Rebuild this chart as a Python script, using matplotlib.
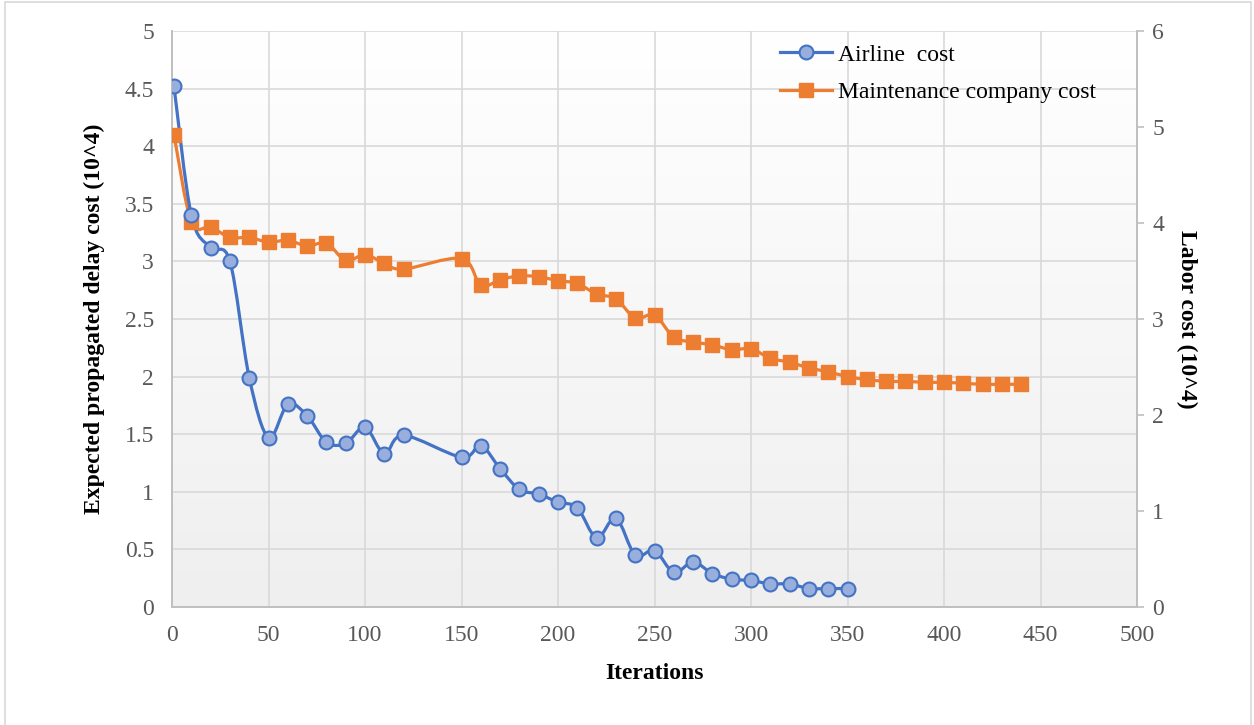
import numpy as np
import matplotlib
matplotlib.use("Agg")
import matplotlib.pyplot as plt
from matplotlib.path import Path
from matplotlib.patches import PathPatch, Rectangle
from matplotlib.lines import Line2D

# Iteration numbers
iters_airline = [1, 10, 20, 30, 40, 50, 60, 70, 80, 90, 100, 110, 120, 150, 160,
                 170, 180, 190, 200, 210, 220, 230, 240, 250, 260, 270, 280, 290,
                 300, 310, 320, 330, 340, 350]
airline_cost = [4.52, 3.40, 3.12, 3.00, 1.99, 1.47, 1.76, 1.66, 1.43, 1.42, 1.56,
                1.33, 1.49, 1.30, 1.40, 1.20, 1.02, 0.98, 0.91, 0.86, 0.60, 0.77,
                0.45, 0.49, 0.30, 0.39, 0.29, 0.24, 0.23, 0.20, 0.20, 0.16, 0.16,
                0.16]

iters_maint = [1, 10, 20, 30, 40, 50, 60, 70, 80, 90, 100, 110, 120, 150, 160,
               170, 180, 190, 200, 210, 220, 230, 240, 250, 260, 270, 280, 290,
               300, 310, 320, 330, 340, 350, 360, 370, 380, 390, 400, 410, 420,
               430, 440]
maint_cost = [4.92, 4.01, 3.96, 3.85, 3.85, 3.80, 3.82, 3.76, 3.79, 3.61, 3.67,
              3.58, 3.52, 3.63, 3.35, 3.41, 3.45, 3.44, 3.40, 3.37, 3.26, 3.21,
              3.01, 3.04, 2.81, 2.76, 2.73, 2.68, 2.69, 2.59, 2.55, 2.49, 2.45,
              2.40, 2.37, 2.35, 2.35, 2.34, 2.34, 2.33, 2.32, 2.32, 2.32]

x_ticks = list(range(0, 501, 50))
left_ticks = [0, 0.5, 1, 1.5, 2, 2.5, 3, 3.5, 4, 4.5, 5]
right_ticks = [0, 1, 2, 3, 4, 5, 6]

BLUE = "#4472C4"
BLUE_FACE = "#98AEDD"
ORANGE = "#ED7D31"
TICK_GREY = "#595959"
GRID = "#D9D9D9"
AXIS_GREY = "#BFBFBF"
FS = 17

plt.rcParams["font.family"] = ["Liberation Serif", "DejaVu Serif"]


def smooth_path(xs, ys, ax_from, ax_to):
    """Cubic Bezier curve through the points (smoothed line), built in
    display space so the curvature is independent of axis scale."""
    pts = ax_from.transData.transform(np.column_stack([xs, ys]))
    n = len(pts)
    verts = [pts[0]]
    codes = [Path.MOVETO]
    for i in range(n - 1):
        p0 = pts[i - 1] if i > 0 else pts[i]
        p1 = pts[i]
        p2 = pts[i + 1]
        p3 = pts[i + 2] if i + 2 < n else pts[i + 1]
        c1 = p1 + (p2 - p0) / 6.0
        c2 = p2 - (p3 - p1) / 6.0
        verts += [c1, c2, p2]
        codes += [Path.CURVE4] * 3
    verts = ax_to.transData.inverted().transform(np.array(verts))
    return Path(verts, codes)


fig = plt.figure(figsize=(12.54, 7.25), dpi=100)
ax = fig.add_axes([0.1372, 0.1628, 0.7695, 0.7944])
ax2 = ax.twinx()

ax.set_xlim(0, 500)
ax.set_ylim(0, 5)
ax2.set_ylim(0, 6)

# Soft vertical gradient behind the plot area
grad = np.linspace(0, 1, 256).reshape(-1, 1)
ax.imshow(grad, extent=[0, 1, 0, 1], transform=ax.transAxes, aspect="auto",
          cmap=matplotlib.colors.LinearSegmentedColormap.from_list(
              "bg", ["#EFEFEF", "#FFFFFF"]), origin="lower", zorder=0)

ax.set_xticks(x_ticks)
ax.set_yticks(left_ticks)
ax.set_yticklabels([f"{t:g}" for t in left_ticks])
ax2.set_yticks(right_ticks)

ax.grid(True, color=GRID, linewidth=1.2, zorder=1)
ax.set_axisbelow(True)

for a in (ax, ax2):
    for side in ("top", "left", "right", "bottom"):
        a.spines[side].set_visible(False)
ax.spines["bottom"].set_visible(True)
ax.spines["bottom"].set_color(AXIS_GREY)
ax.spines["bottom"].set_linewidth(1.4)
ax.spines["left"].set_visible(True)
ax.spines["left"].set_color(AXIS_GREY)
ax.spines["left"].set_linewidth(1.4)
ax2.spines["right"].set_visible(True)
ax2.spines["right"].set_color(AXIS_GREY)
ax2.spines["right"].set_linewidth(1.4)

ax.tick_params(axis="both", length=0, labelsize=FS, labelcolor=TICK_GREY)
ax.tick_params(axis="y", pad=13)
ax.tick_params(axis="x", pad=13)
ax2.tick_params(axis="y", length=5, width=1.2, color=AXIS_GREY, labelsize=FS,
                labelcolor=TICK_GREY, pad=6)

ax.set_xlabel("Iterations", fontsize=FS, fontweight="bold", labelpad=12)
ax.set_ylabel("Expected propagated delay cost (10^4)", fontsize=FS,
              fontweight="bold", labelpad=14)
ax2.set_ylabel("Labor cost (10^4)", fontsize=FS, fontweight="bold",
               rotation=270, labelpad=24)

fig.canvas.draw()

# Smoothed lines
p_blue = smooth_path(iters_airline, airline_cost, ax, ax2)
p_orange = smooth_path(iters_maint, maint_cost, ax2, ax2)
ax2.add_patch(PathPatch(p_orange, facecolor="none", edgecolor=ORANGE,
                        linewidth=2.3, zorder=3, capstyle="round"))
ax2.add_patch(PathPatch(p_blue, facecolor="none", edgecolor=BLUE,
                        linewidth=2.3, zorder=4, capstyle="round"))

# Markers
ax2.plot(iters_maint, maint_cost, linestyle="none", marker="s",
         markersize=9.5, markerfacecolor=ORANGE, markeredgecolor=ORANGE,
         zorder=5)
blue_disp = ax.transData.transform(np.column_stack([iters_airline, airline_cost]))
blue_on_ax2 = ax2.transData.inverted().transform(blue_disp)
ax2.plot(blue_on_ax2[:, 0], blue_on_ax2[:, 1], linestyle="none",
         marker="o", markersize=10, markerfacecolor=BLUE_FACE,
         markeredgecolor=BLUE, markeredgewidth=1.5, zorder=6)

handles = [
    Line2D([], [], color=BLUE, linewidth=2.3, marker="o", markersize=10,
           markerfacecolor=BLUE_FACE, markeredgecolor=BLUE,
           markeredgewidth=1.5),
    Line2D([], [], color=ORANGE, linewidth=2.3, marker="s", markersize=9.5,
           markerfacecolor=ORANGE, markeredgecolor=ORANGE),
]
leg = ax2.legend(handles, ["Airline  cost", "Maintenance company cost"],
                 loc="upper left", bbox_to_anchor=(780 / 1254, 1 - 44 / 725),
                 bbox_transform=fig.transFigure, borderpad=0,
                 borderaxespad=0, frameon=False, fontsize=FS,
                 handlelength=2.2, handletextpad=0.25, labelspacing=0.68)

# Outer chart border
fig.patches.append(Rectangle((0.004, -0.01), 0.994, 1.007,
                             transform=fig.transFigure, fill=False,
                             edgecolor="#D9D9D9", linewidth=1.2))

fig.savefig("out.png", dpi=100)
